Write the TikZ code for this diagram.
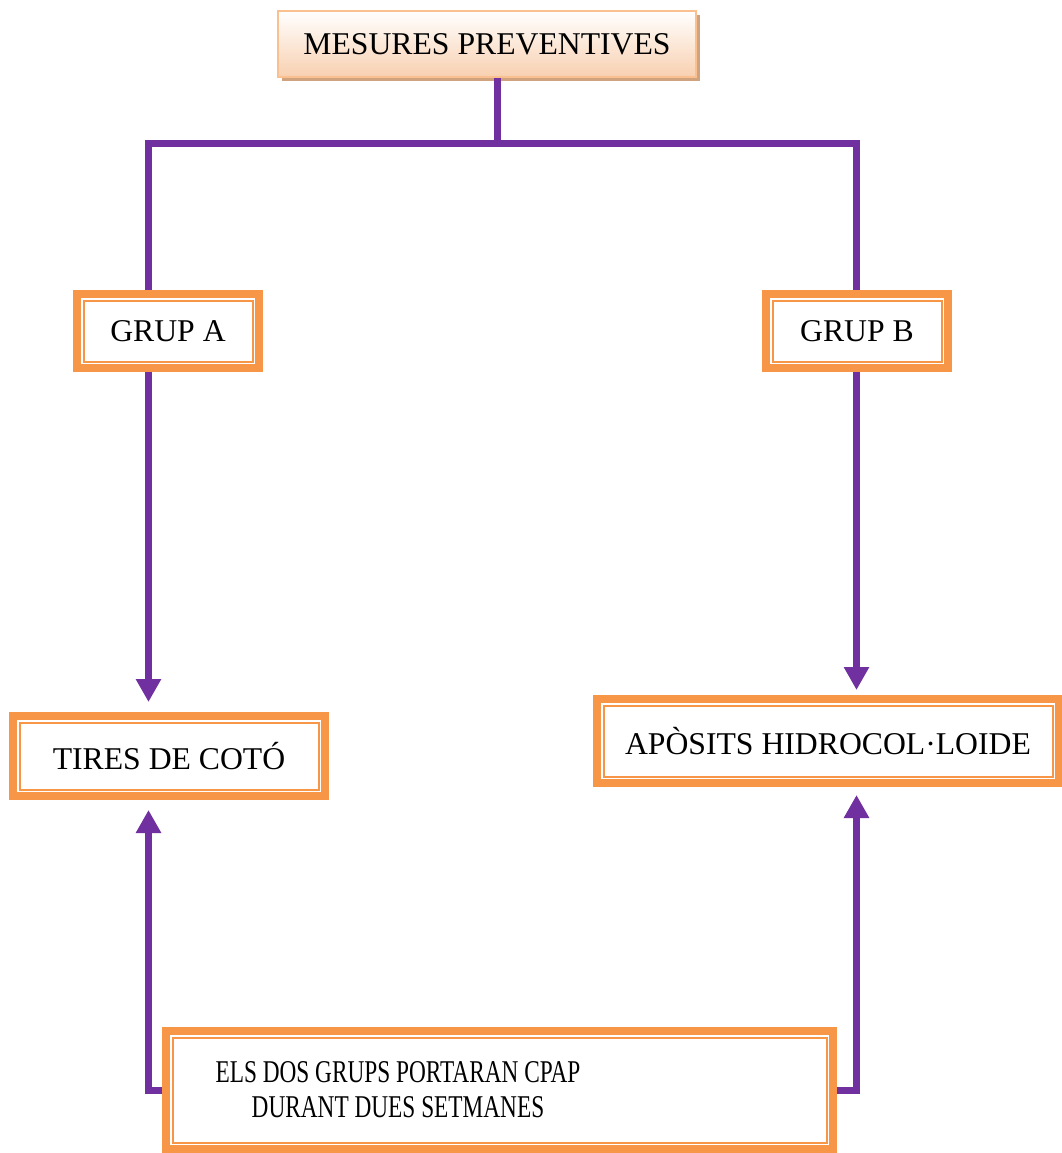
\documentclass[tikz,border=0pt]{standalone}
\usepackage{fontspec}
\setmainfont{Liberation Serif}
\newfontfamily\narrowfont[FakeStretch=0.735]{Liberation Serif}
\usetikzlibrary{calc,shadows,arrows.meta}
\definecolor{boxorange}{HTML}{F79646}
\definecolor{linkpurple}{HTML}{7030A0}
\definecolor{peachbot}{HTML}{F8D0B0}
\definecolor{peachline}{HTML}{FAC090}
\definecolor{peachshadow}{HTML}{D0A27E}
\tikzset{
  headbox/.style={draw=peachline, line width=2pt, top color=white, bottom color=peachbot,
    inner sep=0pt, minimum width=418pt, minimum height=66pt,
    drop shadow={shadow xshift=4pt, shadow yshift=-4pt, fill=peachshadow, opacity=1}},
  grpbox/.style={draw=boxorange, line width=8pt, fill=white, inner sep=0pt},
  innerline/.style={draw=boxorange, line width=2pt},
  link/.style={draw=linkpurple, line width=7pt},
  arrow/.style={link, -{Triangle[width=24pt,length=23pt]}},
}

\begin{document}
\begin{tikzpicture}[x=1pt,y=-1pt, every node/.style={font=\fontsize{31.7}{35}\selectfont}]
    \useasboundingbox (0,0) rectangle (1062,1153);
    % boxes
    \node[headbox] (head) at (487,44) {MESURES PREVENTIVES};
    \node[grpbox, minimum width=182pt, minimum height=74pt] (grpa) at (168,331) {GRUP A};
    \node[grpbox, minimum width=182pt, minimum height=74pt] (grpb) at (857,331) {GRUP B};
    \node[grpbox, minimum width=312pt, minimum height=80pt] (tires) at (169,756) {TIRES DE COTÓ};
    \node[grpbox, minimum width=462pt, minimum height=84pt] (apo) at (828,741) {APÒSITS HIDROCOL·LOIDE};
    \node[grpbox, minimum width=667pt, minimum height=118pt] (cpap) at (499.5,1090) {};
    \node[align=center, font=\narrowfont\fontsize{31.7}{35}\selectfont] (cpaptxt) at (398,1090)
        {ELS DOS GRUPS PORTARAN CPAP\\DURANT DUES SETMANES};
    \foreach \n in {grpa,grpb,tires,apo,cpap}
        \draw[innerline] ($(\n.north west)+(10.5,10.5)$) rectangle ($(\n.south east)+(-10.5,-10.5)$);
    % connectors
    \coordinate (lx) at (148.5,143);
    \coordinate (rx) at (856.5,143);
    \coordinate (split) at (497,143);
    \draw[link] (split |- head.south) -- (split);
    \draw[link] (lx |- grpa.north) |- (rx) -- (rx |- grpb.north);
    \draw[arrow, shorten >=10pt] (lx |- grpa.south) -- (lx |- tires.north);
    \draw[arrow, shorten >=5pt] (rx |- grpb.south) -- (rx |- apo.north);
    \draw[arrow, shorten >=10pt] (cpap.west) -| (lx |- tires.south);
    \draw[arrow, shorten >=8pt] (cpap.east) -| (rx |- apo.south);
\end{tikzpicture}
\end{document}
